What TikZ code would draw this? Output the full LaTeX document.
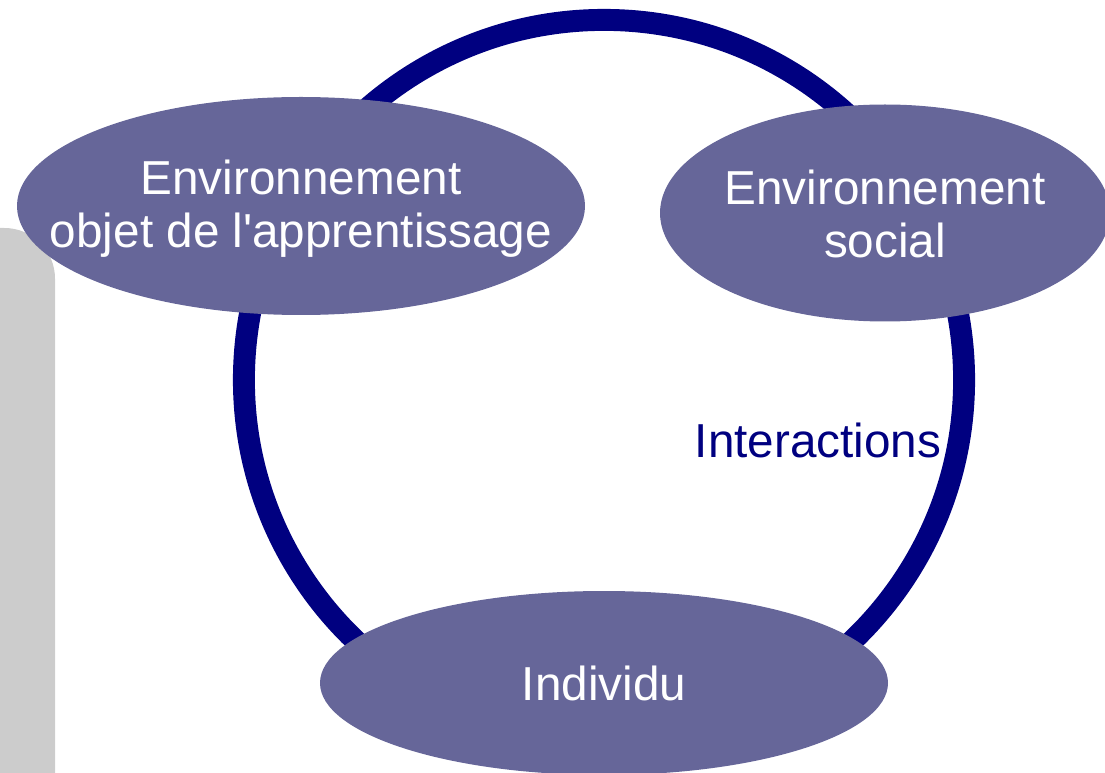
\documentclass[tikz,border=0pt]{standalone}
\usepackage{fontspec}
\setmainfont{Liberation Sans}
\definecolor{ringblue}{RGB}{0,0,128}
\definecolor{blobfill}{RGB}{102,102,153}
\definecolor{sidegray}{RGB}{204,204,204}

\begin{document}
\begin{tikzpicture}[x=0.025cm,y=-0.025cm,
  every node/.append style={font=\fontsize{33.9}{37.7}\selectfont},
  blob/.style={fill=blobfill},
  blobtext/.style={text=white,inner sep=0pt,align=center}]
\useasboundingbox (0,0) rectangle (1105,773);
\fill [sidegray,rounded corners=36pt] (-60,228) rectangle (55,830);
\node [circle,draw=ringblue,line width=15.6pt,minimum size=18cm] (ring) at (604,380) {};
% ellipses
\fill [blob] (301,206) ellipse [x radius=284, y radius=109];
\fill [blob] (885,213) ellipse [x radius=225, y radius=108.5];
\fill [blob] (604,683) ellipse [x radius=284, y radius=92];
\node [blobtext] (objet) at (301,209) {Environnement\\objet de l\textquotesingle apprentissage};
\node [blobtext] (social) at (885,214) {Environnement\\social};
\node [blobtext] (indiv) at (604,683) {Individu};
\node [text=ringblue] (inter) at (818,440) {Interactions};
\end{tikzpicture}
\end{document}
